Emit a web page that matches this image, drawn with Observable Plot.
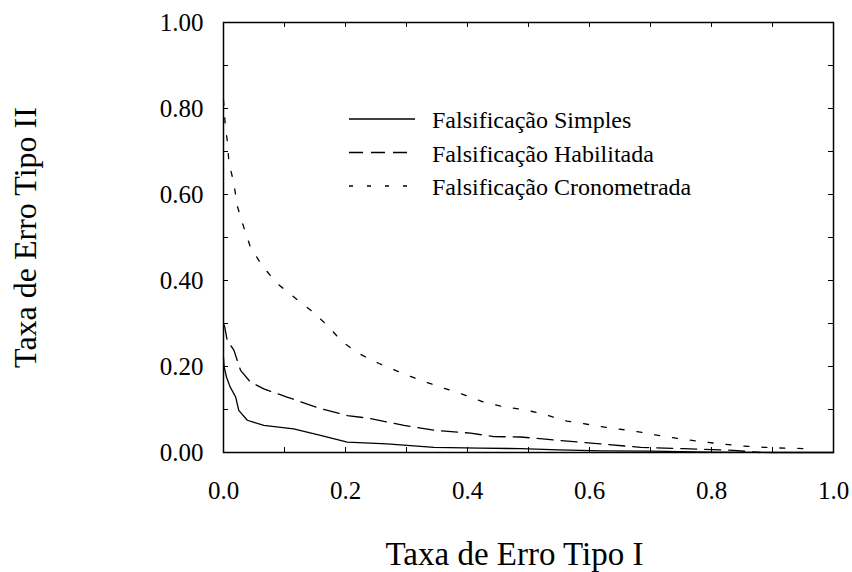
<!DOCTYPE html>
<html lang="pt-BR">
<head>
<meta charset="utf-8">
<script src="https://cdn.jsdelivr.net/npm/d3@7"></script>
<script src="https://cdn.jsdelivr.net/npm/@observablehq/plot@0.6"></script>
<style>
  html, body { margin: 0; padding: 0; background: #fff; }
  #wrap { position: relative; width: 852px; height: 572px; }
  #swatch { position: absolute; left: 340px; top: 100px; }
  #legend { position: absolute; left: 432px; top: 104px; font-size: 24px; line-height: 33.5px; color: #000;
            font-family: 'Times New Roman', 'Liberation Serif', serif; }
</style>
</head>
<body>
<div id="wrap"><div id="legend"></div></div>
<script>
// Series: Taxa de Erro Tipo I (x) vs Taxa de Erro Tipo II (y)
const simplesX = [0, 0.001, 0.005, 0.011, 0.02, 0.025, 0.039, 0.066, 0.115, 0.159, 0.203, 0.268, 0.345, 0.42, 0.487, 0.55, 0.62, 0.7, 0.8, 0.9, 1.0];
const simplesY = [0.22, 0.199, 0.175, 0.152, 0.129, 0.098, 0.075, 0.063, 0.055, 0.040, 0.024, 0.020, 0.012, 0.010, 0.009, 0.006, 0.004, 0.003, 0.001, 0, 0];

const habilX = [0, 0.002, 0.006, 0.017, 0.028, 0.044, 0.066, 0.104, 0.159, 0.203, 0.241, 0.296, 0.350, 0.405, 0.443, 0.487, 0.552, 0.618, 0.684, 0.754, 0.836, 0.88];
const habilY = [0.30, 0.292, 0.261, 0.238, 0.191, 0.164, 0.148, 0.129, 0.102, 0.086, 0.079, 0.063, 0.051, 0.045, 0.037, 0.036, 0.028, 0.020, 0.012, 0.009, 0.005, 0.0];

const cronoX = [0, 0.003, 0.006, 0.009, 0.017, 0.022, 0.033, 0.044, 0.063, 0.088, 0.115, 0.143, 0.170, 0.195, 0.222, 0.255, 0.287, 0.323, 0.356, 0.389, 0.427, 0.46, 0.492, 0.528, 0.563, 0.599, 0.634, 0.673, 0.708, 0.744, 0.779, 0.815, 0.85, 0.886, 0.921, 0.957, 0.965];
const cronoY = [0.82, 0.76, 0.727, 0.673, 0.627, 0.576, 0.525, 0.478, 0.435, 0.393, 0.362, 0.331, 0.296, 0.257, 0.23, 0.207, 0.188, 0.168, 0.152, 0.137, 0.117, 0.106, 0.1, 0.088, 0.073, 0.065, 0.057, 0.05, 0.041, 0.033, 0.026, 0.02, 0.015, 0.012, 0.01, 0.009, 0.001];

const seriesNames = ["Falsifica\u00e7\u00e3o Simples", "Falsifica\u00e7\u00e3o Habilitada", "Falsifica\u00e7\u00e3o Cronometrada"];
const dashes = [null, "16,8", "5,13"];
const legendDashes = [null, "14,8", "4,14"];

const xTickLabels = [0, 0.2, 0.4, 0.6, 0.8, 1.0];
const yTickLabels = [0, 0.2, 0.4, 0.6, 0.8, 1.0];
const minorTicks = [0, 0.1, 0.2, 0.3, 0.4, 0.5, 0.6, 0.7, 0.8, 0.9, 1.0];

const xTitle = "Taxa de Erro Tipo I";
const yTitle = "Taxa de Erro Tipo II";

const FONT = "Liberation Serif";

const toRows = (xs, ys) => xs.map((x, i) => ({x, y: ys[i]}));
const series = [toRows(simplesX, simplesY), toRows(habilX, habilY), toRows(cronoX, cronoY)];

const mL = 223, mR = 19, mT = 22, mB = 120, W = 852, H = 572;
const fw = W - mL - mR, fh = H - mT - mB;

const chart = Plot.plot({
  width: W, height: H,
  marginLeft: mL, marginRight: mR, marginTop: mT, marginBottom: mB,
  style: {fontFamily: FONT, fontSize: "25px", color: "#000", background: "#fff"},
  x: {domain: [0, 1]},
  y: {domain: [0, 1]},
  marks: [
    Plot.frame({stroke: "#000", strokeWidth: 1.5}),
    Plot.tickX(minorTicks, {x: d => d, insetTop: fh - 5, stroke: "#000"}),
    Plot.tickX(minorTicks, {x: d => d, insetBottom: fh - 5, stroke: "#000"}),
    Plot.tickY(minorTicks, {y: d => d, insetRight: fw - 5, stroke: "#000"}),
    Plot.tickY(minorTicks, {y: d => d, insetLeft: fw - 5, stroke: "#000"}),
    Plot.axisX({ticks: xTickLabels, tickSize: 0, tickPadding: 29, tickFormat: d3.format(".1f"), label: null, fontSize: 25}),
    Plot.axisY({ticks: yTickLabels, tickSize: 0, tickPadding: 20, tickFormat: d3.format(".2f"), label: null, fontSize: 25}),
    ...series.map((s, i) => Plot.line(s, {x: "x", y: "y", stroke: "#000", strokeWidth: 1.3, strokeDasharray: dashes[i], curve: "linear"})),
    Plot.text([xTitle], {text: d => d, frameAnchor: "bottom", dx: -14, dy: 112, fontSize: 33, lineAnchor: "bottom"}),
    Plot.text([yTitle], {text: d => d, frameAnchor: "left", dx: -198, rotate: -90, fontSize: 32, lineAnchor: "middle", textAnchor: "middle"})
  ]
});

const wrap = document.getElementById("wrap");
wrap.insertBefore(chart, wrap.firstChild);

// Legend labels
const legendDiv = document.getElementById("legend");
seriesNames.forEach(name => {
  const row = document.createElement("div");
  row.textContent = name;
  legendDiv.appendChild(row);
});

// Legend swatches overlay
const lg = d3.create("svg").attr("id", "swatch").attr("width", 90).attr("height", 100);
seriesNames.forEach((name, i) => {
  const cy = 19 + i * 33.5;
  lg.append("line").attr("x1", 9).attr("x2", 75).attr("y1", cy).attr("y2", cy)
    .attr("stroke", "#000").attr("stroke-width", 1.3)
    .attr("stroke-dasharray", legendDashes[i]);
});
wrap.appendChild(lg.node());
</script>
</body>
</html>
